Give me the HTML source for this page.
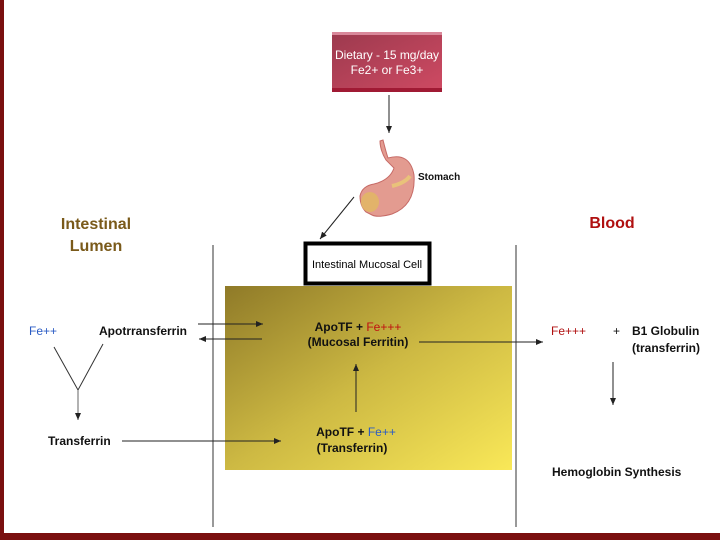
<!DOCTYPE html>
<html><head><style>
html,body{margin:0;padding:0;background:#fff;}
body{width:720px;height:540px;overflow:hidden;position:relative;font-family:"Liberation Sans",sans-serif;}
</style></head><body>
<svg width="720" height="540" viewBox="0 0 720 540" xmlns="http://www.w3.org/2000/svg" style="position:absolute;left:0;top:0">
<defs>
<linearGradient id="red" x1="0" y1="0" x2="1" y2="1">
<stop offset="0" stop-color="#9c3a4e"/><stop offset="1" stop-color="#cf4a63"/></linearGradient>
<linearGradient id="yel" x1="0" y1="0" x2="1" y2="1">
<stop offset="0" stop-color="#8f7a28"/><stop offset="0.5" stop-color="#cdb943"/><stop offset="1" stop-color="#f9e858"/></linearGradient>
<marker id="a" markerWidth="8" markerHeight="8" refX="7" refY="4" orient="auto" markerUnits="userSpaceOnUse">
<path d="M0,1 L7,4 L0,7 Z" fill="#222"/></marker>
</defs>
<rect x="0" y="0" width="4" height="540" fill="#7a0f0f"/>
<rect x="0" y="533" width="720" height="7" fill="#7a0f0f"/>

<rect x="332" y="32" width="110" height="60" fill="url(#red)"/>
<rect x="332" y="32" width="110" height="3" fill="#d9889a"/>
<rect x="332" y="88" width="110" height="4" fill="#a01a34"/>
<text x="387" y="59" font-size="12" fill="#fff" text-anchor="middle" textLength="104">Dietary - 15 mg/day</text>
<text x="387" y="74" font-size="12" fill="#fff" text-anchor="middle">Fe2+ or Fe3+</text>
<line x1="389" y1="95" x2="389" y2="133" stroke="#222" marker-end="url(#a)"/>

<path d="M383,140 Q386,152 388,158 Q410,152 414,175 Q416,205 392,214 Q378,218 372,215 L366,212 Q360,206 360,196 Q362,186 374,184 Q390,180 394,168 L386,160 Q380,150 380,141 Z" fill="#e39b90" stroke="#c66a66" stroke-width="1"/>
<ellipse cx="370" cy="202" rx="9" ry="10" fill="#e2b36a"/>
<path d="M392,186 Q405,183 410,176" stroke="#e9c27a" stroke-width="4" fill="none"/>
<text x="418" y="180" font-size="10" fill="#111" font-weight="bold">Stomach</text>
<line x1="354" y1="197" x2="320" y2="239" stroke="#222" marker-end="url(#a)"/>

<text x="96" y="229" font-size="16" font-weight="bold" fill="#7a5a1a" text-anchor="middle">Intestinal</text>
<text x="96" y="251" font-size="16" font-weight="bold" fill="#7a5a1a" text-anchor="middle">Lumen</text>
<text x="612" y="228" font-size="16" font-weight="bold" fill="#b01010" text-anchor="middle">Blood</text>

<line x1="213" y1="245" x2="213" y2="527" stroke="#333"/>
<line x1="516" y1="245" x2="516" y2="527" stroke="#333"/>

<rect x="305.5" y="243.5" width="124" height="40" fill="#fff" stroke="#000" stroke-width="4"/>
<text x="367" y="268" font-size="11" fill="#000" text-anchor="middle">Intestinal Mucosal Cell</text>

<rect x="225" y="286" width="287" height="184" fill="url(#yel)"/>

<text x="29" y="335" font-size="12" fill="#2a5bc4">Fe++</text>
<text x="99" y="335" font-size="12" font-weight="bold" fill="#111">Apotrransferrin</text>
<line x1="198" y1="324" x2="263" y2="324" stroke="#222" marker-end="url(#a)"/>
<line x1="262" y1="339" x2="199" y2="339" stroke="#222" marker-end="url(#a)"/>
<text x="358" y="331" font-size="12" font-weight="bold" fill="#111" text-anchor="middle">ApoTF + <tspan fill="#c01010" font-weight="normal">Fe+++</tspan></text>
<text x="358" y="346" font-size="12" font-weight="bold" fill="#111" text-anchor="middle">(Mucosal Ferritin)</text>
<line x1="419" y1="342" x2="543" y2="342" stroke="#222" marker-end="url(#a)"/>
<text x="551" y="335" font-size="12" fill="#b01010">Fe+++</text>
<text x="613" y="335" font-size="12" fill="#111">+</text>
<text x="632" y="335" font-size="12" font-weight="bold" fill="#111">B1 Globulin</text>
<text x="632" y="352" font-size="12" font-weight="bold" fill="#111">(transferrin)</text>

<path d="M54,347 L78,390 L103,344" stroke="#333" fill="none"/>
<line x1="78" y1="390" x2="78" y2="420" stroke="#666" marker-end="url(#a)"/>
<text x="48" y="445" font-size="12" font-weight="bold" fill="#111">Transferrin</text>
<line x1="122" y1="441" x2="281" y2="441" stroke="#222" marker-end="url(#a)"/>
<line x1="356" y1="412" x2="356" y2="364" stroke="#222" marker-end="url(#a)"/>
<text x="356" y="436" font-size="12" font-weight="bold" fill="#111" text-anchor="middle">ApoTF + <tspan fill="#2a5bc4" font-weight="normal">Fe++</tspan></text>
<text x="352" y="452" font-size="12" font-weight="bold" fill="#111" text-anchor="middle">(Transferrin)</text>

<line x1="613" y1="362" x2="613" y2="405" stroke="#222" marker-end="url(#a)"/>
<text x="552" y="476" font-size="12" font-weight="bold" fill="#111">Hemoglobin Synthesis</text>
</svg>
</body></html>
